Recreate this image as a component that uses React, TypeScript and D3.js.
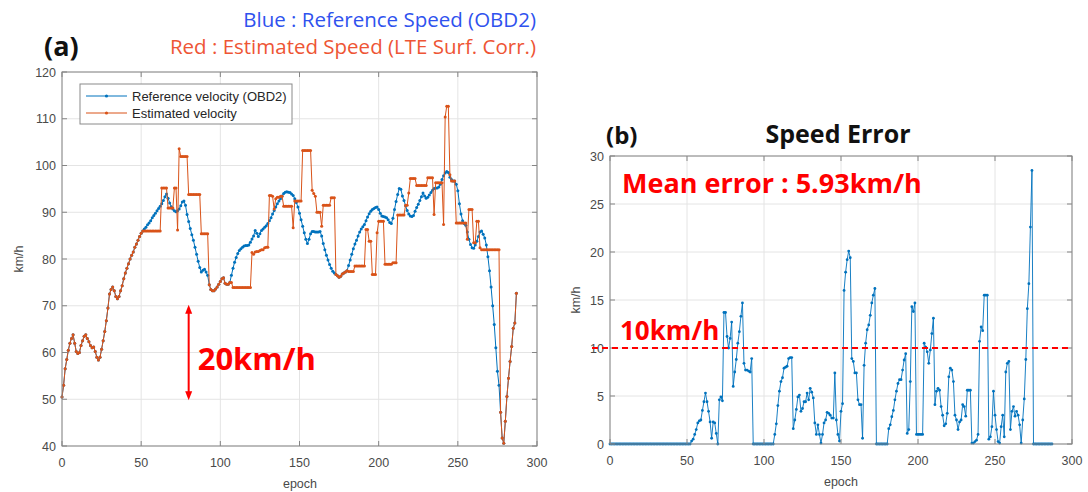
import React from 'react';
import * as d3 from 'd3';

// ---------- data ----------
const refVelocity = [
  50.5, 53, 56.5, 58.5, 60.5, 62, 63, 63.8, 62, 60.2,
  59.8, 60, 61.5, 62.5, 63.5, 63.8, 63, 62.3, 61.5, 61,
  61.2, 60.2, 59, 58.4, 59, 60.7, 62.5, 64.5, 66.8, 69.5,
  72.5, 73.5, 74, 73.2, 72, 71.5, 72, 73.2, 74.3, 75.8,
  77, 78, 79, 80, 80.8, 81.5, 82.5, 83.2, 84, 84.8,
  85.5, 86, 86.4, 86.8, 87.3, 87.7, 88.2, 88.8, 89.3, 89.8,
  90.3, 90.8, 91.3, 91.8, 92.5, 93.3, 93.9, 93, 92, 91.2,
  90.7, 90.3, 90.1, 90.3, 90.7, 91.4, 92.2, 92.4, 91.5, 89.5,
  88, 86.5, 85.2, 84, 82.5, 81, 79.5, 78.2, 77.2, 77.6,
  77.8, 77.2, 76.5, 74.5, 73.5, 73.2, 73.2, 73.6, 74, 74.6,
  75.2, 75.8, 76, 74.8, 74.6, 74.6, 75, 76.5, 78, 79.3,
  80.3, 81.2, 81.8, 82.2, 82.5, 82.8, 82.9, 82.9, 83, 83.6,
  84.3, 84.9, 86.1, 85.5, 84.8, 85.4, 86.1, 86.4, 86.8, 87.1,
  87.6, 88.2, 88.8, 89.6, 90.4, 91.1, 91.8, 92.4, 92.9, 93.5,
  94, 94.3, 94.4, 94.3, 94.2, 93.9, 93.6, 92.9, 92.1, 91.1,
  89.8, 88.4, 87, 85.6, 84.2, 83.3, 84.2, 85.4, 85.9, 85.9,
  85.8, 85.8, 85.8, 85.9, 84.9, 83.3, 82, 80.8, 79.8, 78.8,
  78, 77.4, 77, 76.7, 76.4, 76.1, 76.3, 76.8, 77, 77.2,
  77.5, 78.6, 79.8, 81, 82.2, 83.2, 84, 84.9, 85.8, 86.4,
  86.9, 87.4, 88.2, 89, 89.7, 90.2, 90.6, 90.8, 91, 91.1,
  90.6, 89.8, 89.2, 89.1, 89, 88.8, 88.4, 87.8, 87.6, 88.7,
  90.6, 92.3, 93.8, 95.1, 94.9, 93.5, 92.5, 91.4, 90.4, 89.6,
  89.2, 89.1, 89.3, 90.2, 91, 91.7, 92.5, 93.3, 94.1, 93.5,
  93, 93.2, 93.7, 94.2, 94.7, 95.1, 95.2, 95.2, 95.4, 96,
  97, 97.8, 98.4, 98.7, 98.5, 97.5, 97, 96.7, 96.7, 96,
  94.6, 91.8, 89.6, 88.2, 87.6, 87.2, 85.8, 84.2, 83.1, 82.4,
  82.3, 83, 83.8, 84.8, 85.8, 86, 85.3, 84.5, 83, 80.5,
  77.5, 74, 70, 66, 61, 56, 53, 47.2, 41.7, 40.6,
  45.3, 50.6, 54.5, 58.1, 61.3, 65.2, 66.3, 72.7,
];

const estVelocity = [
  50.5, 53, 56.5, 58.5, 60.5, 62, 63, 63.8, 62, 60.2,
  59.8, 60, 61.5, 62.5, 63.5, 63.8, 63, 62.3, 61.5, 61,
  61.2, 60.2, 59, 58.4, 59, 60.7, 62.5, 64.5, 66.8, 69.5,
  72.5, 73.5, 74, 73.2, 72, 71.5, 72, 73.2, 74.3, 75.8,
  77, 78, 79, 80, 80.8, 81.5, 82.5, 83.2, 84, 84.8,
  85.5, 86, 86, 86, 86, 86, 86, 86, 86, 86,
  86, 86, 86, 95.2, 95.2, 95.2, 95.2, 90.9, 90.9, 90.9,
  90.9, 95.2, 95.2, 86.2, 103.6, 101.9, 101.9, 101.9, 101.9, 101.9,
  93.8, 93.8, 93.8, 93.8, 93.8, 93.8, 93.8, 93.8, 85.4, 85.4,
  85.4, 85.4, 85.4, 74.5, 73.5, 73.2, 73.2, 73.6, 74, 74.6,
  75.2, 75.8, 76, 74.8, 74.6, 74.6, 75, 75, 73.9, 73.9,
  73.9, 73.9, 73.9, 73.9, 73.9, 73.9, 73.9, 73.9, 73.9, 73.9,
  81.4, 81, 81.5, 81.6, 81.6, 81.8, 82, 82, 82.4, 82.5,
  82.5, 93.6, 93.6, 93.4, 90.7, 92.9, 93.2, 93.2, 93.4, 93.4,
  91.3, 91.3, 91.3, 91.3, 91.3, 91.3, 86.7, 92.4, 92.4, 92.4,
  92.4, 92.4, 103.2, 103.2, 103.2, 103.2, 103.2, 103.2, 94.7, 94,
  93.4, 90, 90, 90, 87, 91.5, 91.5, 91.5, 91.5, 91.5,
  93.1, 93.1, 93.1, 76.7, 76.4, 76.1, 76.3, 76.8, 77, 77.2,
  77.5, 77.3, 77.3, 77.3, 77.3, 78.5, 78.5, 78.5, 78.5, 78.5,
  78.5, 78.5, 86.3, 86.3, 83.8, 83.8, 76.7, 76.7, 76.7, 85.6,
  88.1, 88.1, 88.1, 88.1, 78.9, 78.9, 78.9, 78.9, 78.9, 79.2,
  79.2, 79.2, 89.4, 89.4, 89.4, 89.4, 89.4, 91.5, 91.5, 94.1,
  97.2, 97.2, 97.2, 97.2, 95.7, 95.7, 95.7, 95.7, 95.7, 95.7,
  95.7, 97.4, 97.4, 97.4, 97.4, 89.5, 96.3, 96.3, 96.3, 96.3,
  96.3, 87.4, 110.4, 112.7, 112.7, 98, 96.7, 96.7, 96.7, 87.7,
  87.7, 87.7, 87.7, 87.7, 87.7, 87.7, 84.2, 90.6, 90.6, 90.6,
  83.5, 83.5, 88.1, 88.1, 82.4, 82, 82, 82, 82, 82,
  82, 82, 82, 82, 82, 82, 82, 47.2, 41.7, 40.6,
  45.3, 50.6, 54.5, 58.1, 61.3, 65.2, 66.3, 72.7,
];

const speedError = [
  0, 0, 0, 0, 0, 0, 0, 0, 0, 0,
  0, 0, 0, 0, 0, 0, 0, 0, 0, 0,
  0, 0, 0, 0, 0, 0, 0, 0, 0, 0,
  0, 0, 0, 0, 0, 0, 0, 0, 0, 0,
  0, 0, 0, 0, 0, 0, 0, 0, 0, 0,
  0, 0, 0, 0.3, 0.5, 1.0, 1.5, 2.2, 2.4, 2.5,
  3.5, 4.4, 5.3, 4.4, 3.4, 2.3, 0.6, 2.3, 2.2, 1.1,
  0, 4.6, 4.9, 4.5, 13.7, 13.7, 11.2, 10, 11, 12.7,
  6, 7.5, 8.8, 10.5, 11.7, 13.3, 14.7, 8.4, 7.7, 7.7,
  7.6, 7.5, 8.9, 0, 0, 0, 0, 0, 0, 0,
  0, 0, 0, 0, 0, 0, 0, 1.0, 2.1, 4,
  5.5, 6.5, 6.9, 7.9, 8, 8.1, 8.9, 9, 9, 1.6,
  2.5, 3.6, 4.9, 5.1, 3.4, 3.7, 4.4, 4.4, 5.3, 4.6,
  5.8, 5.4, 4.8, 2.2, 1.0, 2.0, 1.0, 0.1, 1.0, 2.2,
  2.5, 3.3, 3.2, 3.0, 2.7, 2.7, 7.4, 2.5, 1.0, 0.3,
  3.4, 4.2, 16, 17.9, 19.2, 20.1, 19.4, 8.9, 8.6, 7.4,
  7.4, 4.6, 4.1, 4.1, 0.6, 8.2, 10.5, 11.9, 12.4, 13.4,
  14.7, 15.5, 16.2, 0, 0, 0, 0, 0, 0, 0,
  0, 1.6, 2.0, 2.85, 3.5, 4.6, 5.5, 6.3, 6.7, 6.7,
  7.7, 8.75, 9.4, 1.1, 1.5, 6.5, 14.3, 13.8, 14.7, 1.0,
  1.0, 1.0, 1.0, 1.0, 10.5, 10.1, 9.6, 8.4, 9.8, 11.5,
  13.1, 4.1, 5.5, 5.8, 5.6, 3.9, 3.0, 1.9, 2.1, 3.2,
  7, 7.9, 7.7, 6.5, 3.0, 2.5, 1.5, 2.3, 2.5, 4.1,
  3.9, 2.9, 5.6, 5.6, 5.6, 0.1, 0.1, 0.25, 0.4, 1.0,
  10.7, 12.2, 11.8, 15.5, 15.5, 15.5, 0.5, 0.75, 1.8, 5.5,
  3, 1.5, 0.25, 0.1, 1.8, 3, 0.75, 7.5, 8.4, 8.6,
  1.5, 3.4, 3.9, 2.9, 3.4, 3, 2.0, 0.1, 2.5, 4.7,
  8.8, 14.1, 16.7, 22.6, 28.5, 0, 0, 0, 0, 0,
  0, 0, 0, 0, 0, 0, 0, 0,
];

const epochTicks = [0, 50, 100, 150, 200, 250, 300];
const velocityTicks = [40, 50, 60, 70, 80, 90, 100, 110, 120];
const errorTicks = [0, 5, 10, 15, 20, 25, 30];
const legendLabels = ['Reference velocity (OBD2)', 'Estimated velocity'];
const errorThreshold = 10;
const arrowEpoch = 80;
const arrowRange = [50, 70];

const BLUE = '#0072BD';
const ORANGE = '#D95319';
const AXIS = '#858585';
const GRID = '#e4e4e4';
const TICK_TEXT = '#4a4a4a';
const MATLAB_FONT = '"Liberation Sans", Arial, sans-serif';
const ANNO_FONT = '"Open Sans", "Noto Sans", sans-serif';

type Scale = d3.ScaleLinear<number, number>;

function Grid({ x, y, xTicks, yTicks }: { x: Scale; y: Scale; xTicks: number[]; yTicks: number[] }) {
  const [x0, x1] = x.range();
  const [yb, yt] = y.range();
  return (
    <g>
      {xTicks.map((t) => (
        <line key={'gx' + t} x1={x(t)} x2={x(t)} y1={yt} y2={yb} stroke={GRID} strokeWidth={1} />
      ))}
      {yTicks.map((t) => (
        <line key={'gy' + t} x1={x0} x2={x1} y1={y(t)} y2={y(t)} stroke={GRID} strokeWidth={1} />
      ))}
    </g>
  );
}

function Frame({ x, y, xTicks, yTicks, yLabelX }: { x: Scale; y: Scale; xTicks: number[]; yTicks: number[]; yLabelX: number }) {
  const [x0, x1] = x.range();
  const [yb, yt] = y.range();
  const tl = 5;
  return (
    <g>
      <rect x={x0} y={yt} width={x1 - x0} height={yb - yt} fill="none" stroke={AXIS} strokeWidth={1} />
      {xTicks.map((t) => (
        <g key={'tx' + t}>
          <line x1={x(t)} x2={x(t)} y1={yb} y2={yb - tl} stroke={AXIS} />
          <line x1={x(t)} x2={x(t)} y1={yt} y2={yt + tl} stroke={AXIS} />
          <text x={x(t)} y={yb + 21} textAnchor="middle" fontSize={12.5} fill={TICK_TEXT} fontFamily={MATLAB_FONT}>
            {t}
          </text>
        </g>
      ))}
      {yTicks.map((t) => (
        <g key={'ty' + t}>
          <line x1={x0} x2={x0 + tl} y1={y(t)} y2={y(t)} stroke={AXIS} />
          <line x1={x1} x2={x1 - tl} y1={y(t)} y2={y(t)} stroke={AXIS} />
          <text x={yLabelX} y={y(t) + 4.5} textAnchor="end" fontSize={12.5} fill={TICK_TEXT} fontFamily={MATLAB_FONT}>
            {t}
          </text>
        </g>
      ))}
    </g>
  );
}

function Series({ data, x, y, color, width, r }: { data: number[]; x: Scale; y: Scale; color: string; width: number; r: number }) {
  const line = d3
    .line<number>()
    .x((_, i) => x(i))
    .y((d) => y(d));
  return (
    <g>
      <path d={line(data) || ''} fill="none" stroke={color} strokeWidth={width} strokeLinejoin="round" />
      {data.map((d, i) => (
        <circle key={i} cx={x(i)} cy={y(d)} r={r} fill={color} />
      ))}
    </g>
  );
}

export default function App() {
  const xa = d3.scaleLinear().domain([0, 300]).range([62, 537]);
  const ya = d3.scaleLinear().domain([40, 120]).range([446, 72]);
  const xb = d3.scaleLinear().domain([0, 300]).range([610, 1072]);
  const yb = d3.scaleLinear().domain([0, 30]).range([444, 156]);

  const ax = xa(arrowEpoch);
  const aTop = ya(arrowRange[1]);
  const aBot = ya(arrowRange[0]);

  return (
    <svg
      width={1088}
      height={492}
      viewBox="0 0 1088 492"
      style={{ position: 'absolute', left: 0, top: 0, background: '#fff' }}
    >
      <rect x={0} y={0} width={1088} height={492} fill="#fff" />

      {/* ---------- (a) ---------- */}
      <text x={536} y={27} textAnchor="end" fontSize={20.5} fill="#2f52ee" fontFamily={ANNO_FONT}>
        Blue : Reference Speed (OBD2)
      </text>
      <text x={536} y={54} textAnchor="end" fontSize={20.5} fill="#ee5535" fontFamily={ANNO_FONT}>
        Red : Estimated Speed (LTE Surf. Corr.)
      </text>
      <text x={44} y={56} fontSize={27} fontWeight={700} fill="#111" fontFamily={ANNO_FONT}>
        (a)
      </text>

      <Grid x={xa} y={ya} xTicks={epochTicks} yTicks={velocityTicks} />
      <Series data={refVelocity} x={xa} y={ya} color={BLUE} width={1} r={1.5} />
      <Series data={estVelocity} x={xa} y={ya} color={ORANGE} width={1} r={1.5} />
      <Frame x={xa} y={ya} xTicks={epochTicks} yTicks={velocityTicks} yLabelX={56} />

      <text x={300} y={488} textAnchor="middle" fontSize={12.5} fill={TICK_TEXT} fontFamily={MATLAB_FONT}>
        epoch
      </text>
      <text
        transform={`translate(23, ${(72 + 446) / 2}) rotate(-90)`}
        textAnchor="middle"
        fontSize={12.5}
        fill={TICK_TEXT}
        fontFamily={MATLAB_FONT}
      >
        km/h
      </text>

      {/* legend */}
      <g>
        <rect x={80} y={84} width={212} height={40} fill="#fff" stroke="#8a8a8a" strokeWidth={1} />
        {legendLabels.map((lab, i) => {
          const cy = 96 + i * 17;
          const c = i === 0 ? BLUE : ORANGE;
          return (
            <g key={lab}>
              <line x1={86} x2={127} y1={cy} y2={cy} stroke={c} strokeWidth={1} />
              <circle cx={106.5} cy={cy} r={1.6} fill={c} />
              <text x={132} y={cy + 4.5} fontSize={13} fill="#262626" fontFamily={MATLAB_FONT}>
                {lab}
              </text>
            </g>
          );
        })}
      </g>

      {/* 20km/h arrow */}
      <g>
        <line x1={ax} x2={ax} y1={aTop + 6} y2={aBot - 6} stroke="#ff0000" strokeWidth={2} />
        <path d={`M${ax},${aTop - 1} L${ax - 3.5},${aTop + 8} L${ax + 3.5},${aTop + 8} Z`} fill="#ff0000" />
        <path d={`M${ax},${aBot + 1} L${ax - 3.5},${aBot - 8} L${ax + 3.5},${aBot - 8} Z`} fill="#ff0000" />
        <text x={ax + 9} y={370} fontSize={31} fontWeight={700} fill="#ff0000" fontFamily={ANNO_FONT}>
          20km/h
        </text>
      </g>

      {/* ---------- (b) ---------- */}
      <text x={606} y={144} fontSize={24} fontWeight={700} fill="#111" fontFamily={ANNO_FONT}>
        (b)
      </text>
      <text x={838} y={143} textAnchor="middle" fontSize={25} fontWeight={700} fill="#111" fontFamily={ANNO_FONT}>
        Speed Error
      </text>

      <Grid x={xb} y={yb} xTicks={epochTicks} yTicks={errorTicks} />
      <Series data={speedError} x={xb} y={yb} color={BLUE} width={0.9} r={1.4} />
      <Frame x={xb} y={yb} xTicks={epochTicks} yTicks={errorTicks} yLabelX={604} />
      <line
        x1={592}
        x2={xb(300)}
        y1={yb(errorThreshold)}
        y2={yb(errorThreshold)}
        stroke="#ff0000"
        strokeWidth={2}
        strokeDasharray="6,4"
      />

      <text x={841} y={486} textAnchor="middle" fontSize={12.5} fill={TICK_TEXT} fontFamily={MATLAB_FONT}>
        epoch
      </text>
      <text
        transform={`translate(580, ${(156 + 444) / 2}) rotate(-90)`}
        textAnchor="middle"
        fontSize={12.5}
        fill={TICK_TEXT}
        fontFamily={MATLAB_FONT}
      >
        km/h
      </text>

      <text x={622} y={193} fontSize={27} fontWeight={700} fill="#ff0000" fontFamily={ANNO_FONT}>
        Mean error : 5.93km/h
      </text>
      <text x={620} y={340} fontSize={26} fontWeight={700} fill="#ff0000" fontFamily={ANNO_FONT}>
        10km/h
      </text>
    </svg>
  );
}
